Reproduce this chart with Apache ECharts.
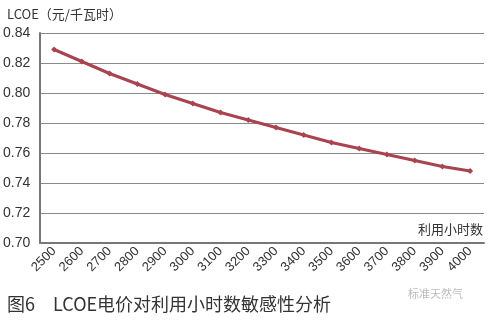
<!DOCTYPE html>
<html><head><meta charset="utf-8">
<script src="https://cdn.jsdelivr.net/npm/echarts@6/dist/echarts.min.js"></script>
<style>html,body{margin:0;padding:0;background:#fff}#c{width:489px;height:320px}</style>
</head><body><div id="c"></div>
<script>
const hours = ['2500','2600','2700','2800','2900','3000','3100','3200','3300','3400','3500','3600','3700','3800','3900','4000'];
const lcoe = [0.829,0.821,0.813,0.806,0.799,0.793,0.787,0.782,0.777,0.772,0.767,0.763,0.759,0.755,0.751,0.748];
const yTicks = {min:0.70, max:0.84, interval:0.02};
const FONT = '"Noto Sans CJK SC","Noto Sans",sans-serif';
const NUM = '"Liberation Sans",Arial,sans-serif';
const chart = echarts.init(document.getElementById('c'));
chart.setOption({
  animation:false,
  grid:{left:40, top:33, right:5, bottom:77, containLabel:false},
  title:[
    {text:'LCOE（元/千瓦时）', left:2, top:3, textStyle:{fontFamily:FONT, fontSize:13, fontWeight:'normal', color:'#333'}},
    {text:'图6　LCOE电价对利用小时数敏感性分析', left:2, top:290, textStyle:{fontFamily:FONT, fontSize:18, fontWeight:'normal', color:'#333'}}
  ],
  graphic:[
    {type:'text', right:6, top:223, style:{text:'利用小时数', font:'13px '+FONT, fill:'#333'}},
    {type:'text', left:408, top:288, style:{text:'标准天然气', font:'11px '+FONT, fill:'rgba(120,120,120,0.5)'}}
  ],
  xAxis:{
    type:'category', data:hours, boundaryGap:true,
    axisLine:{lineStyle:{color:'#777', width:2}},
    axisTick:{alignWithLabel:true, length:5, lineStyle:{color:'#777'}},
    axisLabel:{rotate:45, fontFamily:NUM, fontSize:13, color:'#333', margin:6, interval:0}
  },
  yAxis:{
    type:'value', min:yTicks.min, max:yTicks.max, interval:yTicks.interval,
    axisLine:{show:true, lineStyle:{color:'#777', width:2}},
    axisTick:{show:false},
    axisLabel:{fontFamily:NUM, fontSize:14, color:'#333', margin:10, formatter:v=>v.toFixed(2)},
    splitLine:{lineStyle:{color:'#8a8a8a', width:1}}
  },
  series:[{
    type:'line', data:lcoe, symbol:'diamond', symbolSize:6,
    lineStyle:{color:'#a9434f', width:3},
    itemStyle:{color:'#a9434f'}
  }]
});
</script></body></html>
